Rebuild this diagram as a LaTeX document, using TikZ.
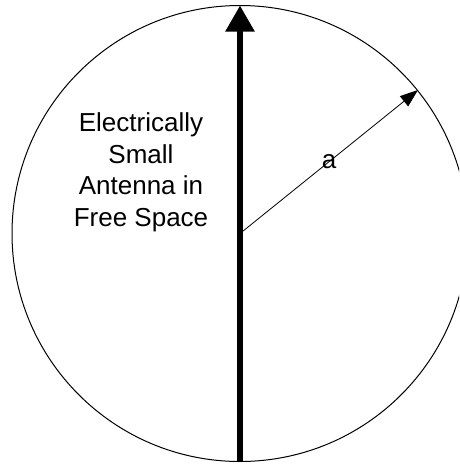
\documentclass[tikz,border=0pt]{standalone}
\usepackage{fontspec}
\setmainfont{Liberation Sans}
\usetikzlibrary{arrows.meta}
\tikzset{sphere/.style = {draw, line width = 1pt}}
\tikzset{antenna/.style = {line width = 5.5pt, -{Triangle[width = 28pt, length = 26pt]}}}
\tikzset{radius/.style = {line width = 0.8pt, -{Triangle[width = 13pt, length = 18pt]}}}
\tikzset{label/.style = {font = \fontsize{26}{31.5}\selectfont, align = center}}

\begin{document}
\begin{tikzpicture}[x = 1pt, y = -1pt]
				\useasboundingbox (0, 0) rectangle (459, 466);
				\clip (0, 0) rectangle (459, 466);
				\coordinate (centre) at (240, 233.5);
				\coordinate (top) at (240, 5.5);
				\coordinate (bottom) at (240, 462);
				\coordinate (rim) at (418, 90);

				\draw[sphere] (centre) circle (228);
				\draw[antenna] (bottom) to (top);
				\draw[radius] (centre) to (rim);

				\node[label] (text) at (141, 172.5) {Electrically\\Small\\Antenna in\\Free Space};
				\node[label] (a) at (329, 162) {a};
			\end{tikzpicture}
\end{document}
